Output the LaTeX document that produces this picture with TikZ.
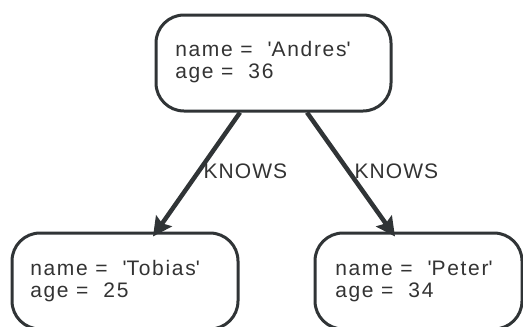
\documentclass[tikz,border=0pt]{standalone}
\usepackage{fontspec}
\setmainfont{Liberation Sans}[LetterSpace=5]
\newfontfamily\nodefont{Liberation Sans}[LetterSpace=8]
\usetikzlibrary{arrows.meta,calc}
\definecolor{ink}{RGB}{48,52,54}
\definecolor{txt}{RGB}{51,51,51}
\tikzset{
  box/.style={draw=ink, line width=3pt, rounded corners=28pt, fill=white,
    minimum height=96pt, inner sep=0pt},
  ntext/.style={anchor=west, align=left, inner sep=0pt, text=txt,
    font=\nodefont\fontsize{21}{22}\selectfont},
  lbl/.style={anchor=base west, inner sep=0pt, text=txt,
    font=\fontsize{21}{22}\selectfont},
  edge/.style={draw=ink, line width=4.5pt,
    -{Stealth[length=19pt,width=19pt,inset=3pt]}}
}
\begin{document}
\begin{tikzpicture}[x=1pt,y=-1pt]
\useasboundingbox (0,0) rectangle (523,327);
% nodes
\node[box, minimum width=235pt] (top) at (273.5,63) {};
\node[box, minimum width=226pt] (bl) at (125,281) {};
\node[box, minimum width=207pt] (br) at (418.5,281) {};
\node[ntext] (toptext) at ([xshift=20.6pt,yshift=1pt]top.west)
  {name =\ \ \textquotesingle Andres\textquotesingle\\age =\ \ 36};
\node[ntext] (bltext) at ([xshift=19.6pt]bl.west)
  {name =\ \ \textquotesingle Tobias\textquotesingle\\age =\ \ 25};
\node[ntext] (brtext) at ([xshift=21.6pt]br.west)
  {name =\ \ \textquotesingle Peter\textquotesingle\\age =\ \ 34};
% edges
\draw[edge] ([xshift=-33.5pt]top.south) -- ([xshift=28pt,yshift=-5pt]bl.north);
\draw[edge] ([xshift=33.5pt]top.south) -- ([xshift=-23.5pt,yshift=-5pt]br.north);
% labels
\node[lbl] (k1) at (203.5,178) {KNOWS};
\node[lbl] (k2) at (354.5,178) {KNOWS};
\end{tikzpicture}
\end{document}
